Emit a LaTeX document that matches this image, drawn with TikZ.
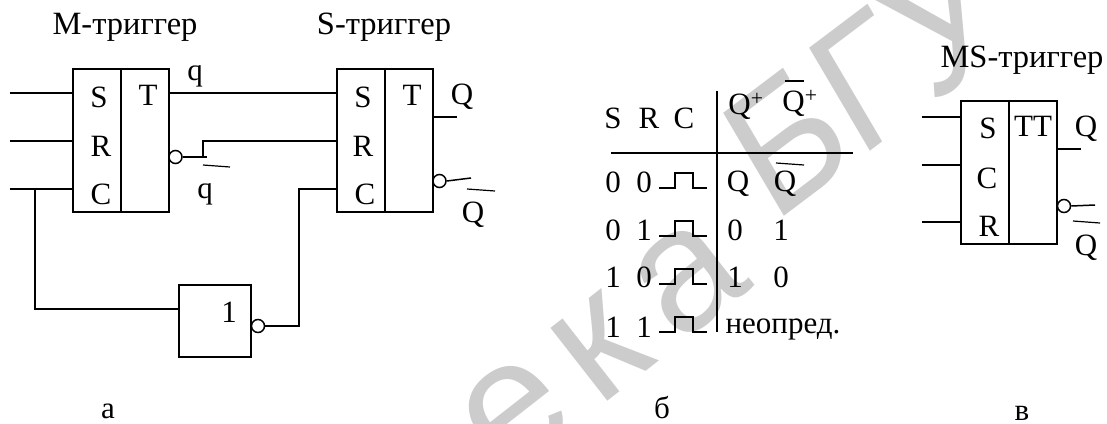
\documentclass[tikz,border=0pt]{standalone}
\usepackage{fontspec}
\setmainfont{Liberation Serif}
\newfontfamily\markfont[LetterSpace=12]{Liberation Sans}
\newfontfamily\markplain{Liberation Sans}
\usetikzlibrary{positioning}
\definecolor{markgray}{gray}{0.8}
\tikzset{
  cell/.style={draw,line width=1.5pt,minimum width=48pt,minimum height=143pt,inner sep=0pt},
  bubble/.style={draw,circle,line width=1.5pt,minimum size=13pt,inner sep=0pt},
  txt/.style={inner sep=0pt,font=\fontsize{31}{32}\selectfont},
  title/.style={inner sep=0pt,font=\fontsize{32.5}{33}\selectfont},
  wire/.style={line width=1.5pt},
  bar/.style={line width=1.2pt}
}
\newcommand{\pulse}[2]{\draw[wire,line width=1.3pt] (659,#1) -- (675,#1) -- (675,#2) -- (693,#2) -- (693,#1) -- (707,#1);}
\begin{document}
\begin{tikzpicture}[x=1pt,y=-1pt,node distance=48pt,on grid]
\useasboundingbox (0,0) rectangle (1107,423);
\clip (0,0) rectangle (1107,423);
\node[markgray,inner sep=0pt,rotate=38,anchor=base west,font=\markfont\fontsize{175}{175}\selectfont] (mark_a) at (505,481) {ека};
\node[markgray,inner sep=0pt,shift={(773,225)},xscale=.884,rotate=33.7,transform shape,anchor=base west,font=\markplain\fontsize{180}{180}\selectfont] (mark_b) at (0,0) {БГУ};
% a: master and slave
\node[cell] (M_l) at (97,140.5) {};
\node[cell] (M_r) [right=of M_l] {};
\node[cell] (S_l) at (361,140.5) {};
\node[cell] (S_r) [right=of S_l] {};
\node[title] (M_t) at (125,27) {M-триггер};
\node[title] (S_t) at (384,27) {S-триггер};
\node[txt] (M_S) at (99,97) {S};
\node[txt] (M_T) at (148,95) {T};
\node[txt] (M_R) at (101,146) {R};
\node[txt] (M_C) at (101,194) {C};
\node[txt] (S_S) at (363,97) {S};
\node[txt] (S_T) at (412,95) {T};
\node[txt] (S_R) at (363,146) {R};
\node[txt] (S_C) at (365,194) {C};
\node[bubble] (M_n) at (175.5,157) {};
\node[bubble] (S_n) at (439.5,181) {};
\node[txt] (q_1) at (195,76) {q};
\node[txt] (q_2) at (205,194) {q};
\node[txt] (Q_1) at (462,97) {Q};
\node[txt] (Q_2) at (473,215) {Q};
\coordinate (in_S) at (10,93);
\coordinate (in_R) at (10,141);
\coordinate (in_C) at (10,189);
\coordinate (c_j) at (35,189);
\coordinate (r_j) at (203,141);
\node[draw,line width=1.5pt,minimum size=72pt,inner sep=0pt] (inv) at (215,321) {};
\node[txt] (inv_1) at (229,312) {1};
\node[bubble] (inv_n) at (258,326) {};
\coordinate (s_j) at (299,189);
\path[wire]
  (in_S) edge (in_S -| M_l.west)
  (in_R) edge (in_R -| M_l.west)
  (in_C) edge (in_C -| M_l.west)
  (M_r.east |- in_S) edge (S_l.west |- in_S);
\draw[wire] (c_j) -- (c_j |- 0,309) -- (inv.west |- 0,309);
\draw[wire] (M_n.east) -- (207,157);
\draw[wire] (203,157) -- (r_j) -- (S_l.west |- r_j);
\draw[wire] (inv_n.east) -- (inv_n -| s_j) -- (s_j) -- (S_l.west |- s_j);
\draw[wire] (S_r.east |- 0,117) -- (457,117);
\draw[wire] (S_n.east) -- (471,178);
\draw[bar] (203,165) -- (230,167);
\draw[bar] (467,189) -- (495,191);
% b: table
\draw[wire] (717,91) -- (717,332);
\draw[wire] (611,153) -- (853,153);
\node[txt] (h_S) at (613,118) {S};
\node[txt] (h_R) at (649,118) {R};
\node[txt] (h_C) at (684,118) {C};
\node[txt] (h_Q) at (746,106) {Q\textsuperscript{+}};
\node[txt] (h_N) at (800,103) {Q\textsuperscript{+}};
\draw[bar] (785,81) -- (804,81);
\foreach \name/\s/\r/\y in {a/0/0/182,b/0/1/230,c/1/0/277,d/1/1/327}{
  \node[txt] (S\name) at (613,\y) {\s};
  \node[txt] (R\name) at (644,\y) {\r};
}
\pulse{188}{173}
\pulse{236}{221}
\pulse{284}{269}
\pulse{332}{317}
\node[txt] (t_a) at (738,184) {Q};
\node[txt] (t_b) at (785,184) {Q};
\draw[bar] (776,163) -- (804,165);
\node[txt] (u_a) at (735,230) {0};
\node[txt] (u_b) at (781,230) {1};
\node[txt] (v_a) at (735,277) {1};
\node[txt] (v_b) at (781,277) {0};
\node[txt] (w) at (783,329) {неопред.};
% c: joint symbol
\node[cell] (J_l) at (985,172.5) {};
\node[cell] (J_r) [right=of J_l] {};
\node[title] (J_t) at (1022,60) {MS-триггер};
\node[txt] (J_S) at (988,128) {S};
\node[txt] (J_T) at (1033,126) {TT};
\node[txt] (J_C) at (987,178) {C};
\node[txt] (J_R) at (989,226) {R};
\node[txt] (J_Q) at (1086,129) {Q};
\node[txt] (J_N) at (1086,248) {Q};
\node[bubble] (J_n) at (1064,206) {};
\coordinate (jn_S) at (922,117);
\coordinate (jn_C) at (922,165);
\coordinate (jn_R) at (922,222);
\path[wire]
  (jn_S) edge (jn_S -| J_l.west)
  (jn_C) edge (jn_C -| J_l.west)
  (jn_R) edge (jn_R -| J_l.west);
\draw[wire] (J_r.east |- 0,149) -- (1081,149);
\draw[wire] (J_n.east) -- (1095,205);
\draw[bar] (1073,221) -- (1100,223);
% captions
\node[txt] (cap_a) at (108,411) {а};
\node[txt] (cap_b) at (662,408) {б};
\node[txt] (cap_c) at (1022,413) {в};
\end{tikzpicture}
\end{document}
